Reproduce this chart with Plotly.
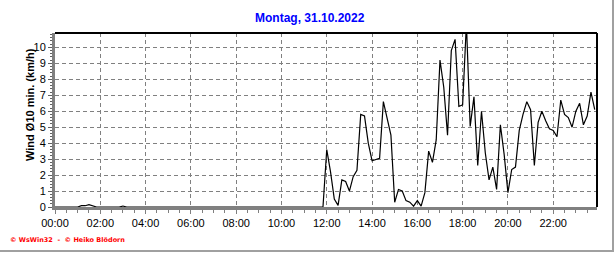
import pandas as pd
import plotly.graph_objects as go

title_text = "Montag, 31.10.2022"
y_title = "Wind Ø10 min. (km/h)"
footer = "© WsWin32  -  © Heiko Blödorn"

start_time = "2022-10-31 00:00"
step = "10min"

# wind (km/h), 10-minute values from 00:00 to 23:50
wind_00_06 = [0, 0, 0, 0, 0, 0, 0, 0.08, 0.08, 0.15, 0.08, 0,
              0, 0, 0, 0, 0, 0, 0.06, 0, 0, 0, 0, 0,
              0, 0, 0, 0, 0, 0, 0, 0, 0, 0, 0, 0]
wind_06_12 = [0] * 36
wind_12_18 = [3.6, 2.2, 0.5, 0.1, 1.7, 1.6,
              1.0, 1.9, 2.3, 5.8, 5.7, 4.0,
              2.9, 3.0, 3.05, 6.6, 5.6, 4.5,
              0.3, 1.1, 1.0, 0.4, 0.3, 0.05,
              0.4, 0.05, 0.9, 3.5, 2.8, 4.2,
              9.2, 7.5, 4.5, 9.8, 10.5, 6.3]
wind_18_24 = [6.4, 11.5, 5.05, 6.9, 2.6, 6.0,
              3.4, 1.7, 2.5, 1.1, 5.15, 3.3,
              0.9, 2.35, 2.5, 4.8, 5.8, 6.6,
              6.1, 2.6, 5.3, 6.0, 5.4, 4.9,
              4.8, 4.4, 6.7, 5.8, 5.6, 5.0,
              6.0, 6.5, 5.15, 5.7, 7.2, 6.1]
wind = wind_00_06 + wind_06_12 + wind_12_18 + wind_18_24
times = pd.date_range(start_time, periods=len(wind), freq=step)

tick_vals = pd.date_range(start_time, periods=12, freq="2h")
tick_text = [t.strftime("%H:%M") for t in tick_vals]

W, H = 616, 253
L, R, T, B = 55, 597, 33, 207
fig = go.Figure()
fig.add_trace(go.Scatter(x=times, y=wind, mode="lines",
                         line=dict(color="black", width=1.2), hoverinfo="skip"))

font = dict(family="Liberation Sans, Arial", size=11, color="black")
fig.update_layout(
    width=W, height=H,
    margin=dict(l=L, r=W - R, t=T, b=H - B, pad=0),
    paper_bgcolor="white", plot_bgcolor="white",
    showlegend=False,
    font=font,
    xaxis=dict(range=[pd.Timestamp("2022-10-31 00:00"), pd.Timestamp("2022-10-31 23:56")],
               tickvals=tick_vals, ticktext=tick_text,
               showgrid=True, gridcolor="#808080", griddash="4px,3px", gridwidth=1,
               zeroline=False, showline=True, linecolor="#808080", linewidth=3,
               ticks="outside", ticklen=4, tickcolor="#808080", tickwidth=1,
               minor=dict(dtick=30 * 60 * 1000, ticks="outside", ticklen=3,
                          tickcolor="#808080", showgrid=False),
               tickfont=font, layer="below traces", fixedrange=True),
    yaxis=dict(range=[0, 10.9], dtick=1, tick0=0,
               showgrid=True, gridcolor="#808080", griddash="4px,3px", gridwidth=1,
               zeroline=False, showline=True, linecolor="#808080", linewidth=3,
               ticks="outside", ticklen=4, tickcolor="#606060", tickwidth=1,
               minor=dict(dtick=0.2, ticks="outside", ticklen=2,
                          tickcolor="#606060", showgrid=False),
               tickfont=font, layer="below traces", fixedrange=True),
)

pw, ph = R - L, B - T
def px(xp):
    return (xp - L) / pw
def py(yp):
    return (B - yp) / ph

shapes = [
    dict(type="line", xref="paper", yref="paper", x0=0, x1=1, y0=1, y1=1,
         line=dict(color="black", width=2)),
    dict(type="line", xref="paper", yref="paper", x0=1, x1=1, y0=0, y1=1,
         line=dict(color="black", width=2)),
    dict(type="line", xref="paper", yref="paper", x0=px(613), x1=px(613), y0=py(0), y1=py(252),
         line=dict(color="#a0a0a0", width=2)),
    dict(type="line", xref="paper", yref="paper", x0=px(0), x1=px(614), y0=py(251), y1=py(251),
         line=dict(color="#a0a0a0", width=2)),
]
fig.update_layout(shapes=shapes)

fig.add_annotation(text="<b>" + title_text + "</b>", xref="paper", yref="paper",
                   x=px(310), y=py(18), xanchor="center", yanchor="middle", showarrow=False,
                   font=dict(family="Liberation Sans, Arial", size=12, color="#0000ff"))
fig.add_annotation(text="<b>" + y_title + "</b>", xref="paper", yref="paper",
                   x=px(30), y=py(105), xanchor="center", yanchor="middle", showarrow=False,
                   textangle=-90,
                   font=dict(family="Liberation Sans, Arial", size=11, color="black"))
fig.add_annotation(text="<b>" + footer + "</b>", xref="paper", yref="paper",
                   x=px(8), y=py(240), xanchor="left", yanchor="middle", showarrow=False,
                   font=dict(family="DejaVu Sans", size=6.5, color="#ff0000"))

fig.write_html("out.html")
